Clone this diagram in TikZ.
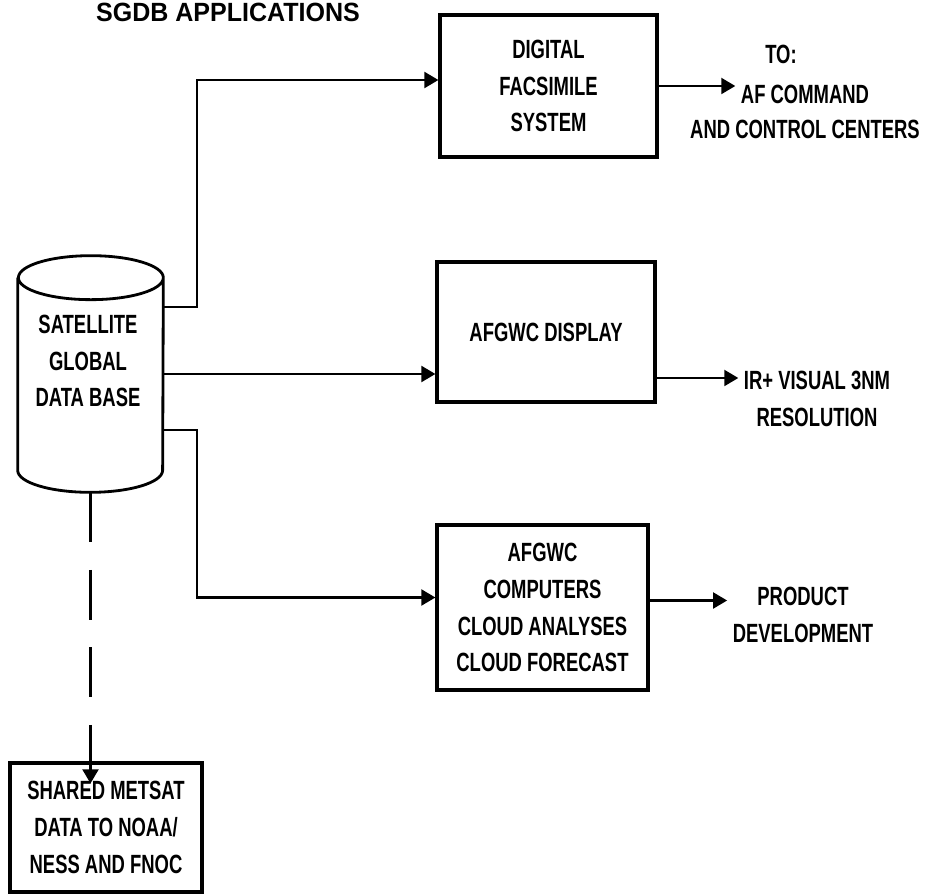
\documentclass[tikz,border=0pt]{standalone}
\usepackage{fontspec}
\setmainfont{Liberation Sans}[FakeStretch=0.7]
\newfontfamily\titlefont{Liberation Sans}[FakeStretch=0.95]
\usetikzlibrary{positioning,arrows.meta}
\newcommand{\diaglab}{\bfseries\fontsize{15}{21}\selectfont}

\begin{document}
\begin{tikzpicture}[x=0.02cm, y=-0.02cm,
        box/.style={draw, line width=1.8pt, align=center, font=\diaglab},
        lab/.style={align=center, font=\diaglab, inner sep=3pt},
        link/.style={line width=1.5pt, -{Triangle[length=8pt,width=9pt]}},
        dashlink/.style={link, dash pattern=on 1cm off 0.55cm},
      ]
      \useasboundingbox (0,0) rectangle (950,895);
      \node[lab, font=\titlefont\diaglab] (title) at (228,12) {SGDB APPLICATIONS};
      % data base cylinder
      \node[minimum width=2.9cm, minimum height=3.84cm, inner sep=0pt] (db) at (90.5,374) {};
      \draw[line width=1.6pt] (db.north west) -- (db.south west)
        arc[start angle=180, end angle=360, x radius=1.45cm, y radius=0.44cm]
        -- (db.north east)
        arc[start angle=0, end angle=180, x radius=1.45cm, y radius=0.44cm]
        arc[start angle=180, end angle=360, x radius=1.45cm, y radius=0.44cm];
      \node[lab] (dbtxt) at (88,361) {SATELLITE\\GLOBAL\\DATA BASE};
      % application boxes
      \node[box, minimum width=4.34cm, minimum height=2.84cm] (dfs) at (548.5,86) {DIGITAL\\FACSIMILE\\SYSTEM};
      \node[box, minimum width=4.36cm, minimum height=2.8cm] (disp) at (546,332) {AFGWC DISPLAY};
      \node[box, minimum width=4.22cm, minimum height=3.3cm] (comp) at (542.5,607.5) {AFGWC\\COMPUTERS\\CLOUD ANALYSES\\CLOUD FORECAST};
      \node[box, minimum width=3.84cm, minimum height=2.58cm] (shared) at (106,827.5) {SHARED METSAT\\DATA TO NOAA/\\NESS AND FNOC};
      % outputs
      \node[lab] (to) at (781,54) {TO:};
      \node[lab] (afc) at (805,94) {AF COMMAND};
      \node[lab] (ctrl) at (805,129) {AND CONTROL CENTERS};
      \node[lab] (ir) at (817,399) {IR+ VISUAL 3NM\\RESOLUTION};
      \node[lab] (prod) at (803,615) {PRODUCT\\DEVELOPMENT};
      \coordinate (bus) at (197,374);
      % connectors
      \draw[link] ([yshift=1.34cm]db.east) -- ([yshift=1.34cm]db.east -| bus) |- ([yshift=0.12cm]dfs.west);
      \draw[link] (db.east) -- (db.east -| disp.west);
      \draw[link] ([yshift=-1.12cm]db.east) -- ([yshift=-1.12cm]db.east -| bus) |- ([yshift=0.2cm]comp.west);
      \draw[dashlink] ([yshift=-0.44cm]db.south) -- ([yshift=-0.44cm]db.south |- shared.north);
      \draw[link] (dfs.east) -- (dfs.east -| afc.west);
      \draw[link] ([yshift=-0.92cm]disp.east) -- ([yshift=-0.92cm]disp.east -| ir.west);
      \draw[link] ([yshift=0.14cm]comp.east) -- ([yshift=0.14cm]comp.east -| prod.west);
    \end{tikzpicture}
\end{document}
